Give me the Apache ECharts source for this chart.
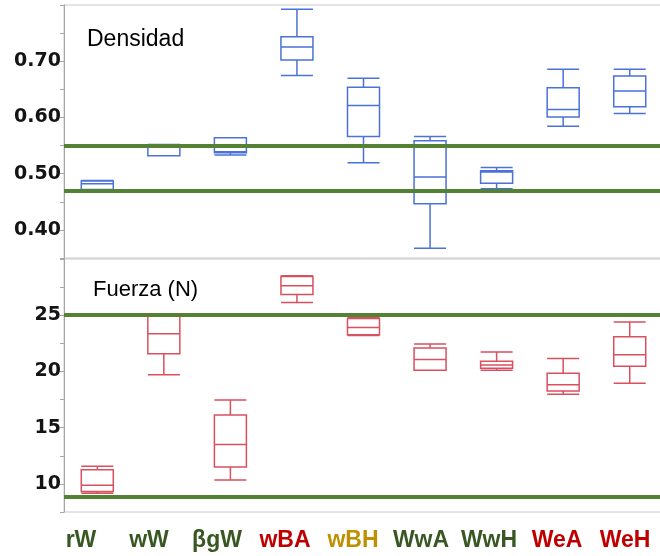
<!DOCTYPE html>
<html><head><meta charset="utf-8">
<script src="https://cdn.jsdelivr.net/npm/echarts@6.0.0/dist/echarts.min.js"></script>
<style>html,body{margin:0;padding:0;background:#fff}#c{width:660px;height:556px}</style>
</head><body><div id="c"></div>
<script>
const categories = ['rW', 'wW', 'βgW', 'wBA', 'wBH', 'WwA', 'WwH', 'WeA', 'WeH'];
const labelColors = ['#385723', '#385723', '#385723', '#c00000', '#bf9000', '#385723', '#385723', '#c00000', '#c00000'];
// [min, Q1, median, Q3, max]
const densityBoxes = [
  [0.470, 0.472, 0.482, 0.487, 0.488],
  [0.532, 0.532, 0.549, 0.551, 0.552],
  [0.533, 0.537, 0.539, 0.564, 0.564],
  [0.6745, 0.702, 0.7255, 0.7434, 0.7923],
  [0.5196, 0.5661, 0.6214, 0.6536, 0.6696],
  [0.3673, 0.4464, 0.4941, 0.5584, 0.5661],
  [0.473, 0.483, 0.503, 0.505, 0.511],
  [0.5845, 0.6006, 0.6143, 0.653, 0.6857],
  [0.6071, 0.6191, 0.647, 0.6738, 0.6857]
];
const forceBoxes = [
  [9.17, 9.32, 9.89, 11.26, 11.56],
  [19.71, 21.57, 23.36, 24.9, 25.0],
  [10.34, 11.5, 13.5, 16.13, 17.45],
  [26.14, 26.85, 27.63, 28.44, 28.5],
  [23.2, 23.27, 23.9, 24.7, 24.8],
  [20.11, 20.11, 21.06, 22.08, 22.44],
  [20.11, 20.29, 20.58, 20.91, 21.72],
  [17.98, 18.25, 18.82, 19.84, 21.15],
  [18.94, 20.47, 21.48, 23.09, 24.4]
];
const densityRefs = [0.47, 0.55];
const forceRefs = [8.9, 25];
const densityTickLabels = ['0.40', '0.50', '0.60', '0.70'];
const forceTickLabels = ['10', '15', '20', '25'];
const densityTitle = 'Densidad';
const forceTitle = 'Fuerza (N)';

const chart = echarts.init(document.getElementById('c'), null, {renderer: 'canvas'});
const axisGray = '#a6a6a6';
const refGreen = '#548235';

function yAxisCfg(idx, min, max, interval, labels, dec) {
  return {
    gridIndex: idx, type: 'value', min: min, max: max, interval: interval,
    axisLine: {show: true, lineStyle: {color: axisGray, width: 1}},
    axisTick: {show: true, length: 4, lineStyle: {color: axisGray}},
    splitLine: {show: false},
    axisLabel: {
      margin: 3,
      formatter: function (v) { const s = v.toFixed(dec); return labels.includes(s) ? s : ''; },
      fontFamily: 'DejaVu Sans', fontWeight: 'bold', fontSize: 19, color: '#141414'
    }
  };
}
function xAxisCfg(idx) {
  return {
    gridIndex: idx, type: 'category', data: categories,
    axisLine: {show: false}, axisTick: {show: false}, axisLabel: {show: false}, splitLine: {show: false}
  };
}
function boxSeries(idx, data, color, refs) {
  return {
    type: 'boxplot', xAxisIndex: idx, yAxisIndex: idx, data: data,
    boxWidth: [32, 32],
    itemStyle: {color: 'transparent', borderColor: color, borderWidth: 1.5},
    emphasis: {disabled: true},
    markLine: {
      silent: true, symbol: 'none',
      label: {show: false},
      lineStyle: {color: refGreen, width: 4, type: 'solid'},
      data: refs.map(v => ({yAxis: v}))
    }
  };
}

chart.setOption({
  animation: false,
  grid: [
    {left: 64, width: 599, top: 5, height: 253, outerBoundsMode: 'none', containLabel: false, show: true, borderColor: '#c8c8c8', borderWidth: 1},
    {left: 64, width: 599, top: 259, height: 253, outerBoundsMode: 'none', containLabel: false, show: true, borderColor: '#c8c8c8', borderWidth: 1},
    {left: 47, width: 612, top: 520, height: 1, outerBoundsMode: 'none', containLabel: false}
  ],
  xAxis: [
    xAxisCfg(0), xAxisCfg(1),
    {
      gridIndex: 2, type: 'category', data: categories,
      axisLine: {show: false}, axisTick: {show: false}, splitLine: {show: false},
      axisLabel: {
        margin: 8, interval: 0,
        fontFamily: 'Liberation Sans', fontWeight: 'bold', fontSize: 23,
        color: function (v, i) { return labelColors[categories.indexOf(v)]; }
      }
    }
  ],
  yAxis: [
    yAxisCfg(0, 0.35, 0.8, 0.05, densityTickLabels, 2),
    yAxisCfg(1, 7.5, 30, 2.5, forceTickLabels, 0),
    {gridIndex: 2, type: 'value', show: false}
  ],
  series: [
    boxSeries(0, densityBoxes, '#4a72d8', densityRefs),
    boxSeries(1, forceBoxes, '#d9505f', forceRefs)
  ],
  graphic: [
    {type: 'text', left: 87, top: 28, style: {text: densityTitle, font: '23px "Liberation Sans"', fill: '#000'}},
    {type: 'text', left: 93, top: 279, style: {text: forceTitle, font: '22px "Liberation Sans"', fill: '#000'}}
  ]
});
</script>
</body></html>
